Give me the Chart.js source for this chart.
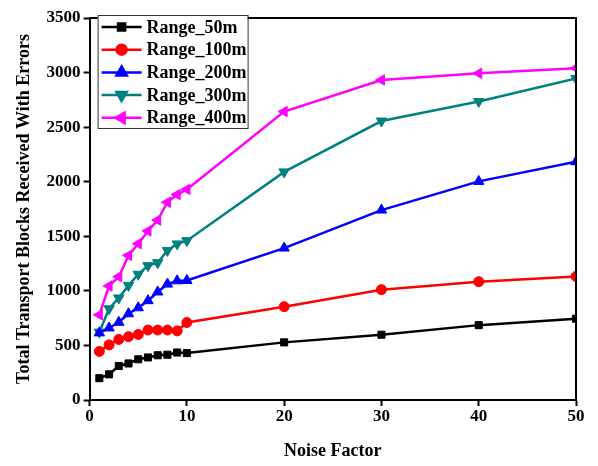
<!DOCTYPE html>
<html>
<head>
<meta charset="utf-8">
<script src="https://cdn.jsdelivr.net/npm/chart.js@4.4.0/dist/chart.umd.min.js"></script>
<style>
  html, body { margin: 0; padding: 0; background: #fff; }
  #wrap { width: 598px; height: 466px; }
</style>
</head>
<body>
<div id="wrap"><canvas id="noiseChart" width="598" height="466"></canvas></div>
<script>
// Noise factor values on the x axis
const noiseFactor = [1, 2, 3, 4, 5, 6, 7, 8, 9, 10, 20, 30, 40, 50];

// Transport blocks received with errors, one array per range
const range50m  = [200, 235, 312, 335, 373, 390, 410, 415, 435, 430, 528, 598, 686, 745];
const range100m = [445, 505, 555, 580, 600, 641, 641, 641, 633, 710, 855, 1011, 1084, 1132];
const range200m = [615, 660, 712, 790, 845, 910, 990, 1062, 1092, 1095, 1392, 1740, 2003, 2183];
const range300m = [622, 836, 935, 1050, 1152, 1231, 1258, 1370, 1430, 1460, 2090, 2556, 2735, 2945];
const range400m = [780, 1045, 1130, 1325, 1432, 1549, 1648, 1812, 1882, 1930, 2643, 2932, 2993, 3040];

const seriesNames = ['Range_50m', 'Range_100m', 'Range_200m', 'Range_300m', 'Range_400m'];
const xTicks = [0, 10, 20, 30, 40, 50];
const yTicks = [0, 500, 1000, 1500, 2000, 2500, 3000, 3500];

const serif = "'Liberation Serif', 'Times New Roman', serif";

const styles = [
    { color: '#000000', point: 'rect', rotation: 0, radius: 5 },
    { color: '#ff0000', point: 'circle', rotation: 0, radius: 5 },
    { color: '#0000ff', point: 'triangle', rotation: 0, radius: 6 },
    { color: '#008080', point: 'triangle', rotation: 180, radius: 6 },
    { color: '#ff00ff', point: 'triangle', rotation: -90, radius: 6 }
];

const allSeries = [range50m, range100m, range200m, range300m, range400m];

// frame on top and right + legend box inside the plot
const framePlugin = {
    id: 'frameAndLegend',
    afterDraw(chart) {
        const ctx = chart.ctx;
        const a = chart.chartArea;
        ctx.save();
        ctx.strokeStyle = '#000';
        ctx.lineWidth = 2;
        ctx.beginPath();
        ctx.moveTo(a.left, a.top);
        ctx.lineTo(a.right, a.top);
        ctx.lineTo(a.right, a.bottom);
        ctx.stroke();

        // legend
        const bx = a.left + 8, by = a.top - 3, bw = 150, bh = 113;
        ctx.fillStyle = '#fff';
        ctx.fillRect(bx, by, bw, bh);
        ctx.lineWidth = 1;
        ctx.strokeStyle = '#333';
        ctx.strokeRect(bx + 0.5, by + 0.5, bw, bh);
        ctx.font = 'bold 18px ' + serif;
        ctx.textBaseline = 'middle';
        seriesNames.forEach((name, i) => {
            const cy = by + 12 + i * 22.7;
            const st = styles[i];
            ctx.strokeStyle = st.color;
            ctx.lineWidth = 2.5;
            ctx.beginPath();
            ctx.moveTo(bx + 4, cy);
            ctx.lineTo(bx + 44, cy);
            ctx.stroke();
            ctx.fillStyle = st.color;
            Chart.helpers.drawPoint(ctx, {
                pointStyle: st.point,
                rotation: st.rotation,
                radius: st.radius,
                borderWidth: 1
            }, bx + 24, cy);
            ctx.fillStyle = '#000';
            ctx.fillText(name, bx + 49, cy + 1);
        });
        ctx.restore();
    }
};

const ctx = document.getElementById('noiseChart').getContext('2d');
const chart = new Chart(ctx, {
    type: 'line',
    data: {
        datasets: allSeries.map((vals, i) => ({
            label: seriesNames[i],
            data: noiseFactor.map((x, j) => ({ x: x, y: vals[j] })),
            borderColor: styles[i].color,
            backgroundColor: styles[i].color,
            borderWidth: 2.5,
            pointStyle: styles[i].point,
            rotation: styles[i].rotation,
            pointRadius: styles[i].radius,
            pointBorderWidth: 1,
            fill: false,
            tension: 0,
            clip: 0
        }))
    },
    options: {
        responsive: false,
        animation: false,
        layout: { padding: { top: 18, right: 22, left: 14, bottom: 4 } },
        plugins: {
            legend: { display: false },
            tooltip: { enabled: false }
        },
        scales: {
            x: {
                type: 'linear',
                min: 0,
                max: 50,
                afterBuildTicks: axis => { axis.ticks = xTicks.map(v => ({ value: v })); },
                grid: { drawOnChartArea: false, drawTicks: true, tickLength: 6, tickWidth: 2, tickColor: '#000' },
                border: { display: true, color: '#000', width: 2 },
                ticks: {
                    color: '#000',
                    font: { family: serif, size: 17, weight: 'bold' },
                    padding: 0,
                    maxRotation: 0,
                    callback: value => String(value)
                },
                title: {
                    display: true,
                    text: 'Noise Factor',
                    color: '#000',
                    font: { family: serif, size: 18, weight: 'bold' },
                    padding: { top: 14, bottom: 0 }
                }
            },
            y: {
                min: 0,
                max: 3500,
                afterBuildTicks: axis => { axis.ticks = yTicks.map(v => ({ value: v })); },
                grid: { drawOnChartArea: false, drawTicks: true, tickLength: 6, tickWidth: 2, tickColor: '#000' },
                border: { display: true, color: '#000', width: 2 },
                ticks: {
                    color: '#000',
                    font: { family: serif, size: 17, weight: 'bold' },
                    padding: 3,
                    callback: value => String(value)
                },
                title: {
                    display: true,
                    text: 'Total Transport Blocks Received With Errors',
                    color: '#000',
                    font: { family: serif, size: 18, weight: 'bold' },
                    padding: { top: 0, bottom: 8 }
                }
            }
        }
    },
    plugins: [framePlugin]
});
</script>
</body>
</html>
